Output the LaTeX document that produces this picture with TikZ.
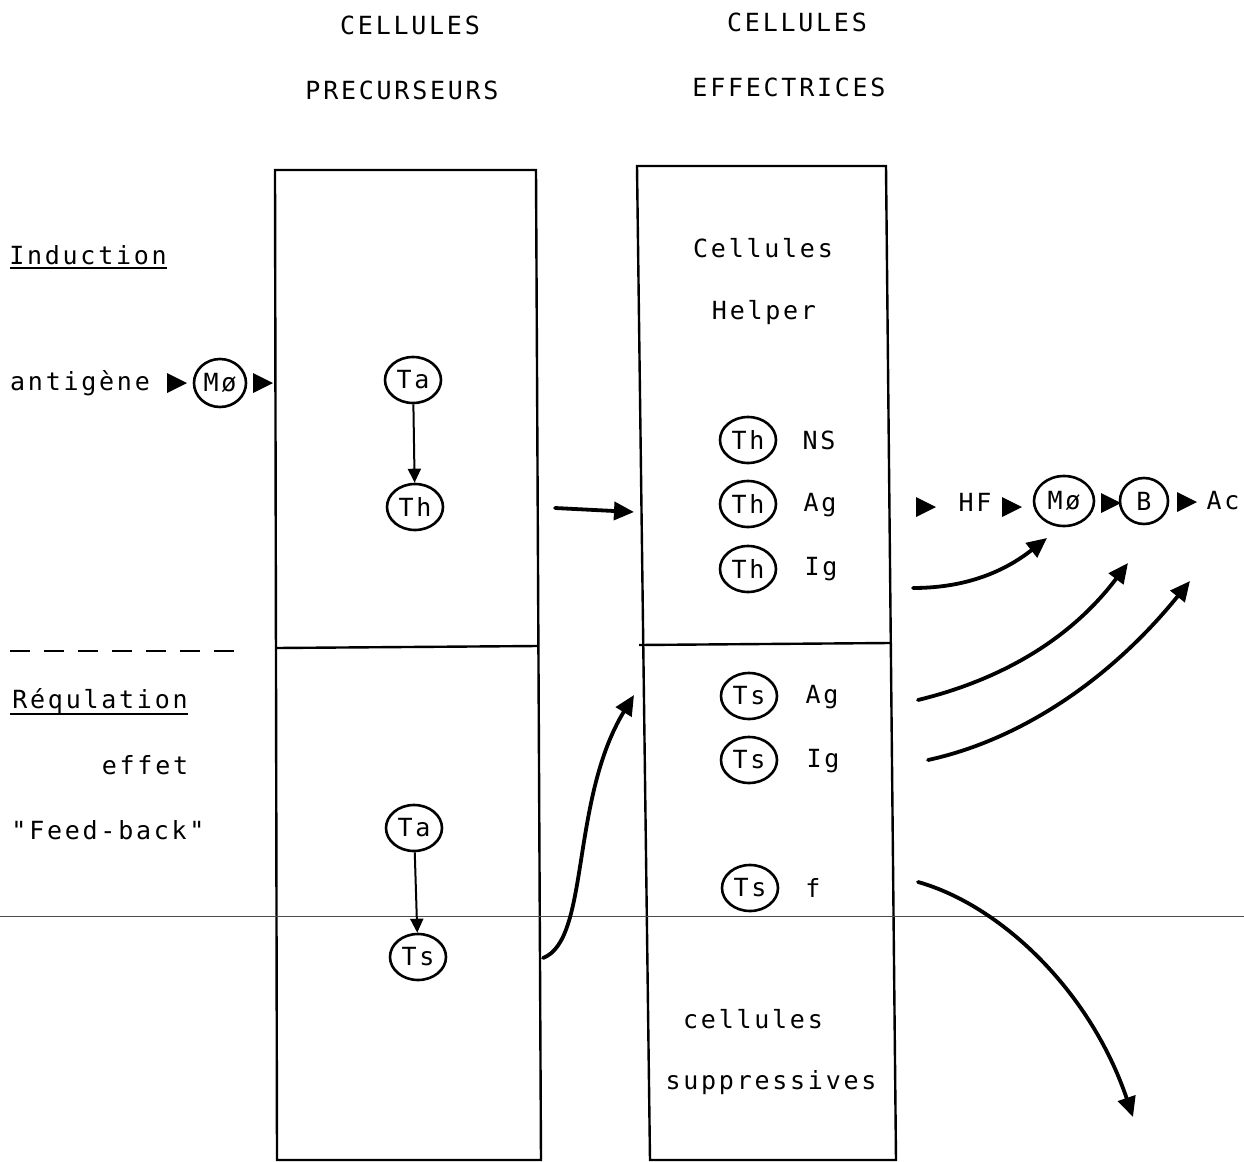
\documentclass[tikz,border=0pt]{standalone}
\usepackage{fontspec}
\setmonofont{DejaVu Sans Mono}[LetterSpace=11]
\usetikzlibrary{arrows.meta,shapes.geometric}
\begin{document}
\begin{tikzpicture}[x=0.5pt,y=-0.5pt,
  lbl/.style={font=\ttfamily\fontsize{12.5}{14}\selectfont, inner sep=0pt},
  cell/.style={ellipse, draw, line width=1.3pt, minimum width=28pt, minimum height=23pt,
    inner sep=0pt, font=\ttfamily\fontsize{12.5}{14}\selectfont},
  boxline/.style={line width=1.2pt},
  flow/.style={line width=1.9pt, line cap=round, -{Triangle[length=10pt,width=9pt]}},
  thin arrow/.style={line width=1pt, -{Triangle[length=7pt,width=6.5pt]}},
  tip/.pic={\fill (-5pt,-5pt) -- (5pt,0pt) -- (-5pt,5pt) -- cycle;}
]
\useasboundingbox (0,0) rectangle (1244,1162);

% column headings
\node[lbl] (h1a) at (410,25) {CELLULES};
\node[lbl] (h1b) at (402,90) {PRECURSEURS};
\node[lbl] (h2a) at (797,22) {CELLULES};
\node[lbl] (h2b) at (789,87) {EFFECTRICES};

% the two columns
\draw[boxline] (275,170) -- (536,170) -- (541,1160) -- (277,1160) -- cycle;
\draw[boxline] (276,648) -- (538,646);
\draw[boxline] (637,166) -- (886,166) -- (896,1160) -- (650,1160) -- cycle;
\draw[boxline] (639,645) -- (890,643);

% stray horizontal line across the sheet
\draw[line width=0.4pt, black!70] (0,916) -- (1244,916);

% row titles
\node[lbl] (ind) at (88,255) {Induction};
\draw[line width=1pt] (10,268) -- (167,268);
\draw[line width=1.4pt, dash pattern=on 10pt off 7pt] (10,651) -- (242,651);
\node[lbl] (reg) at (100,701) {Réqulation};
\draw[line width=1pt] (10,714) -- (188,714);
\node[lbl] (eff) at (145,765) {effet};
\node[lbl] (fb) at (108,830) {"Feed-back"};

% antigen presentation
\node[lbl] (ag) at (80,383) {antigène};
\pic (t1) at (177,383) {tip};
\node[cell, minimum width=26pt, minimum height=24pt] (mo1) at (220,383) {Mø};
\pic (t2) at (263,383) {tip};

% precursor cells
\node[cell] (ta1) at (413,380) {Ta};
\node[cell] (th0) at (415,507) {Th};
\draw[thin arrow] (ta1) -- (th0);
\node[cell] (ta2) at (414,828) {Ta};
\node[cell] (ts0) at (418,957) {Ts};
\draw[thin arrow] (ta2) -- (ts0);

% effector cells: helper
\node[lbl] (ch) at (763,248) {Cellules};
\node[lbl] (hp) at (764,313) {Helper};
\node[cell] (th1) at (748,440) {Th};
\node[cell] (th2) at (748,504) {Th};
\node[cell] (th3) at (748,569) {Th};
\node[lbl] (ns) at (819,440) {NS};
\node[lbl] (ag1) at (820,505) {Ag};
\node[lbl] (ig1) at (821,569) {Ig};

% effector cells: suppressor
\node[cell] (ts1) at (749,696) {Ts};
\node[cell] (ts2) at (749,760) {Ts};
\node[cell] (ts3) at (750,888) {Ts};
\node[lbl] (ag2) at (822,697) {Ag};
\node[lbl] (ig2) at (823,761) {Ig};
\node[lbl] (ff) at (813,888) {f};
\node[lbl] (cs) at (753,1019) {cellules};
\node[lbl] (sp) at (771,1083) {suppressives};

% antibody production chain
\pic (t3) at (926,507) {tip};
\node[lbl] (hf) at (975,502) {HF};
\pic (t4) at (1012,507) {tip};
\node[cell, minimum width=30pt, minimum height=25pt] (mo2) at (1064,501) {Mø};
\pic (t5) at (1111,503) {tip};
\node[cell, minimum width=24pt, minimum height=23pt] (bc) at (1144,501) {B};
\pic (t6) at (1187,502) {tip};
\node[lbl] (ac) at (1223,501) {Ac};

% connectors
\coordinate (a0) at (555,508);
\coordinate (a1) at (634,512);
\draw[flow] (a0) -- (a1);

\coordinate (s0) at (543,958);
\coordinate (s1) at (634,695);
\draw[flow] (s0) .. controls (590,940) and (570,800) .. (s1);

\coordinate (c0) at (913,588);
\coordinate (c1) at (1047,538);
\draw[flow] (c0) .. controls (960,588) and (1000,575) .. (c1);

\coordinate (d0) at (918,700);
\coordinate (d1) at (1128,563);
\draw[flow] (d0) .. controls (1000,680) and (1070,640) .. (d1);

\coordinate (e0) at (928,760);
\coordinate (e1) at (1190,581);
\draw[flow] (e0) .. controls (1020,740) and (1110,680) .. (e1);

\coordinate (f0) at (918,882);
\coordinate (f1) at (1133,1117);
\draw[flow] (f0) .. controls (1000,905) and (1090,990) .. (f1);
\end{tikzpicture}
\end{document}
